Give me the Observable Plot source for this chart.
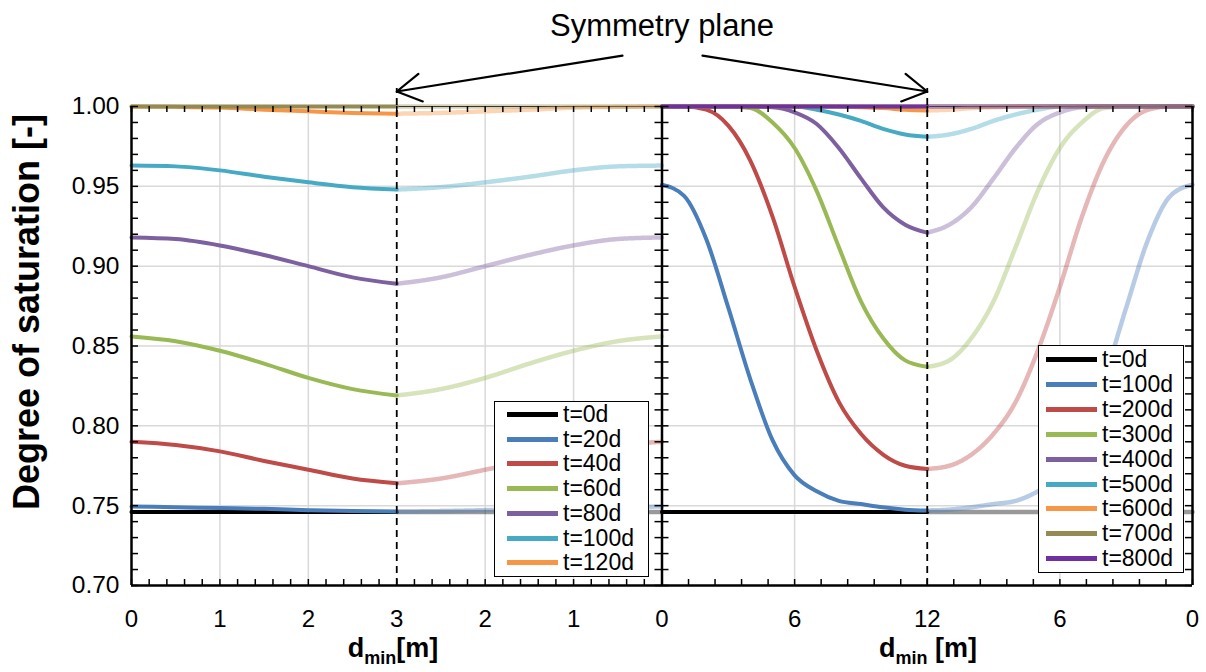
<!DOCTYPE html>
<html>
<head>
<meta charset="utf-8">
<script src="https://cdn.jsdelivr.net/npm/d3@7"></script>
<script src="https://cdn.jsdelivr.net/npm/@observablehq/plot@0.6"></script>
<style>
  body { margin: 0; background: #fff; font-family: Arial, "Liberation Sans", sans-serif; }
  #wrap { position: relative; width: 1206px; height: 672px; overflow: hidden; }
  #wrap svg { position: absolute; left: 0; top: 0; }
  .legend { position: absolute; border: 1.5px solid #000; background: #fff; box-sizing: border-box; }
  .row { position: absolute; left: 0; right: 0; height: 24px; }
  .row .sw { position: absolute; top: 10px; height: 5px; }
  .row .lb { position: absolute; top: -2px; font-size: 23px; line-height: 28px; color: #000; white-space: nowrap; }
  .xtitle { position: absolute; top: 632px; font-weight: bold; font-size: 27px; line-height: 32px; transform: translateX(-50%); white-space: nowrap; }
  .xtitle sub { font-size: 18px; vertical-align: -7px; }
  .ytitle { position: absolute; left: 27px; top: 312px; font-weight: bold; font-size: 36px; white-space: nowrap; transform: translate(-50%, -50%) rotate(-90deg); }
</style>
</head>
<body>
<div id="wrap"></div>
<script>
// ---------------- data ----------------
// left panel: distance from boundary (m), 0..3 (symmetry plane at 3)
const uLeft = [0, 0.5, 1, 1.5, 2, 2.5, 3];
const leftNames = ["t=0d", "t=20d", "t=40d", "t=60d", "t=80d", "t=100d", "t=120d"];
const left_t0   = [0.746, 0.746, 0.746, 0.746, 0.746, 0.746, 0.746];
const left_t20  = [0.7495, 0.749, 0.7485, 0.748, 0.7472, 0.7466, 0.7463];
const left_t40  = [0.790, 0.788, 0.784, 0.778, 0.7725, 0.767, 0.764];
const left_t60  = [0.856, 0.853, 0.847, 0.839, 0.830, 0.823, 0.819];
const left_t80  = [0.918, 0.917, 0.913, 0.907, 0.900, 0.893, 0.889];
const left_t100 = [0.963, 0.9625, 0.960, 0.956, 0.9525, 0.9495, 0.948];
const left_t120 = [1.000, 0.9998, 0.9993, 0.998, 0.997, 0.996, 0.9955];
const left_top  = [1.000, 1.000, 1.000, 1.000, 1.000, 1.000, 1.000]; // unlabelled line at 1.00

// right panel: distance (m), 0..12 (symmetry plane at 12)
const uRight = [0, 1, 2, 3, 4, 5, 6, 7, 8, 9, 10, 11, 12];
const rightNames = ["t=0d", "t=100d", "t=200d", "t=300d", "t=400d", "t=500d", "t=600d", "t=700d", "t=800d"];
const right_t0   = [0.746, 0.746, 0.746, 0.746, 0.746, 0.746, 0.746, 0.746, 0.746, 0.746, 0.746, 0.746, 0.746];
const right_t100 = [0.951, 0.944, 0.917, 0.874, 0.829, 0.791, 0.769, 0.759, 0.753, 0.751, 0.749, 0.7475, 0.747];
const right_t200 = [1.000, 1.000, 0.998, 0.988, 0.966, 0.931, 0.887, 0.847, 0.815, 0.795, 0.782, 0.775, 0.773];
const right_t300 = [1.000, 1.000, 1.000, 1.000, 0.999, 0.990, 0.974, 0.947, 0.912, 0.878, 0.855, 0.841, 0.837];
const right_t400 = [1.000, 1.000, 1.000, 1.000, 1.000, 0.9995, 0.9963, 0.989, 0.974, 0.955, 0.937, 0.926, 0.921];
const right_t500 = [1.000, 1.000, 1.000, 1.000, 1.000, 1.000, 1.000, 0.998, 0.995, 0.991, 0.986, 0.9825, 0.981];
const right_t600 = [1.000, 1.000, 1.000, 1.000, 1.000, 1.000, 1.000, 1.000, 1.000, 0.9995, 0.999, 0.998, 0.9975];
const right_t700 = [1.000, 1.000, 1.000, 1.000, 1.000, 1.000, 1.000, 1.000, 1.000, 1.000, 1.000, 1.000, 1.000];
const right_t800 = [1.000, 1.000, 1.000, 1.000, 1.000, 1.000, 1.000, 1.000, 1.000, 1.000, 1.000, 1.000, 1.000];

// tick labels
const leftTickValues = [0, 1, 2, 3];
const rightTickValues = [0, 6, 12];
const yTickValues = [0.70, 0.75, 0.80, 0.85, 0.90, 0.95, 1.00];
const annotationText = "Symmetry plane";
const yTitle = "Degree of saturation [-]";

// ---------------- styles ----------------
const leftColors  = ["#000000", "#4a7ebb", "#be4b48", "#98b954", "#7d60a0", "#46aac5", "#f79646"];
const rightColors = ["#000000", "#4a7ebb", "#be4b48", "#98b954", "#7d60a0", "#46aac5", "#f79646", "#948a54", "#7030a0"];
const oliveColor = "#948a54";

// ---------------- geometry of the combined x scale ----------------
const symL = 3, symR = 12;           // symmetry plane positions (m)
const k = symL / symR;               // right panel compression into [2*symL, 4*symL]
const xL = u => u, xLm = u => 2 * symL - u;
const xR = u => 2 * symL + u * k, xRm = u => 4 * symL - u * k;

function rows(us, vs, fx) { return us.map((u, i) => ({x: fx(u), y: vs[i]})); }

const leftSeries = [left_t0, left_t20, left_t40, left_t60, left_t80, left_t100, left_t120];
const rightSeries = [right_t0, right_t100, right_t200, right_t300, right_t400, right_t500, right_t600, right_t700, right_t800];

const solidW = 4, fadeW = 4.5;
const fadedMarks = [], solidMarks = [];
function addSeries(us, vs, f, fm, color) {
  fadedMarks.push(Plot.line(rows(us, vs, fm), {x: "x", y: "y", stroke: color, strokeWidth: fadeW, strokeOpacity: 0.4, strokeDasharray: "1 1", curve: "monotone-x"}));
  solidMarks.push(Plot.line(rows(us, vs, f), {x: "x", y: "y", stroke: color, strokeWidth: solidW, curve: "monotone-x"}));
}
leftSeries.forEach((vs, i) => addSeries(uLeft, vs, xL, xLm, leftColors[i]));
addSeries(uLeft, left_top, xL, xLm, oliveColor);
rightSeries.forEach((vs, i) => addSeries(uRight, vs, xR, xRm, rightColors[i]));

// ticks
const minorLeft = d3.range(0, 2 * symL + 1e-9, 0.2).map(v => +v.toFixed(4));
const minorRight = d3.range(0, 2 * symR + 1e-9, 1.2).map(u => +xR(u).toFixed(4));
const minorX = Array.from(new Set([...minorLeft, ...minorRight]));
const minorY = d3.range(0.70, 1.0001, 0.01).map(v => +v.toFixed(2));
const gridX = [1, 2, 4, 5, xR(6), xR(18)];
const gridY = [0.75, 0.80, 0.85, 0.90, 0.95];

const xLabels = [];
leftTickValues.forEach(u => { xLabels.push({x: xL(u), t: String(u)}); if (u !== symL) xLabels.push({x: xLm(u), t: String(u)}); });
rightTickValues.forEach(u => { if (u !== 0) xLabels.push({x: xR(u), t: String(u)}); if (u !== symR) xLabels.push({x: xRm(u), t: String(u)}); });

const chart = Plot.plot({
  width: 1206, height: 672,
  marginLeft: 131, marginRight: 14, marginTop: 106, marginBottom: 87,
  x: {domain: [0, 4 * symL], axis: null},
  y: {domain: [0.70, 1.00], axis: null},
  style: {fontFamily: "Arial, 'Liberation Sans', sans-serif", background: "transparent"},
  marks: [
    Plot.ruleX(gridX, {stroke: "#d9d9d9", strokeWidth: 1.5}),
    Plot.ruleY(gridY, {stroke: "#d9d9d9", strokeWidth: 1.5}),
    Plot.ruleY([1.0], {stroke: "#000", strokeWidth: 1.2}),
    ...fadedMarks,
    ...solidMarks,
    // symmetry planes
    Plot.ruleX([symL, xR(symR)], {y1: 0.70, y2: 1.0112, stroke: "#000", strokeWidth: 1.8, strokeDasharray: "7 5"}),
    // tick marks
    Plot.ruleX(minorX, {y1: 0.70, y2: 0.70, insetTop: -6, stroke: "#000", strokeWidth: 1.5}),
    Plot.ruleX(minorX, {y1: 1.0, y2: 1.0, insetBottom: -6, stroke: "#000", strokeWidth: 1.5}),
    Plot.ruleY(minorY, {x1: 0, x2: 0, insetRight: -7, stroke: "#000", strokeWidth: 1.5}),
    Plot.ruleY(minorY, {x1: 2 * symL, x2: 2 * symL, insetLeft: -7, insetRight: -7, stroke: "#000", strokeWidth: 1.5}),
    Plot.ruleY(minorY, {x1: 4 * symL, x2: 4 * symL, insetLeft: -7, stroke: "#000", strokeWidth: 1.5}),
    // frame
    Plot.ruleX([0, 2 * symL, 4 * symL], {y1: 0.70, y2: 1.0, stroke: "#000", strokeWidth: 2.5}),
    Plot.ruleY([0.70], {x1: 0, x2: 4 * symL, stroke: "#000", strokeWidth: 2.5}),
    // tick labels
    Plot.text(yTickValues, {x: 0, y: d => d, text: d => d3.format(".2f")(d), textAnchor: "end", dx: -12, fontSize: 24.5, fill: "#000"}),
    Plot.text(xLabels, {x: "x", y: 0.70, text: "t", dy: 34, fontSize: 24, fill: "#000"}),
    // annotation
    Plot.text([annotationText], {x: 2 * symL, y: 1.0, text: d => d, dy: -80, fontSize: 31, fill: "#000"}),
    Plot.arrow([{x1: 5.553, x2: symL}, {x1: 6.458, x2: xR(symR)}], {x1: "x1", x2: "x2", y1: 1.0319, y2: 1.0094, stroke: "#000", strokeWidth: 2.2, headLength: 19, bend: 0})
  ]
});
const wrap = document.getElementById("wrap");
wrap.appendChild(chart);

// legends
function legend(names, colors, box, rowTop, rowStep, swLeft, txtLeft) {
  const d = document.createElement("div");
  d.className = "legend";
  Object.assign(d.style, {left: box[0] + "px", top: box[1] + "px", width: box[2] + "px", height: box[3] + "px"});
  names.forEach((n, i) => {
    const r = document.createElement("div");
    r.className = "row";
    r.style.top = (rowTop + i * rowStep - 12) + "px";
    r.innerHTML = `<span class="sw" style="left:${swLeft}px;width:51px;background:${colors[i]}"></span><span class="lb" style="left:${txtLeft}px">${n}</span>`;
    d.appendChild(r);
  });
  wrap.appendChild(d);
}
legend(leftNames, leftColors, [494, 401, 155, 176], 12, 24.7, 12, 68);
legend(rightNames, rightColors, [1038, 345, 146, 228], 13, 24.9, 7, 63);

// axis titles
function xTitle(html, cx) {
  const d = document.createElement("div");
  d.className = "xtitle"; d.innerHTML = html; d.style.left = cx + "px";
  wrap.appendChild(d);
}
xTitle("d<sub>min</sub>[m]", 393);
xTitle("d<sub>min</sub> [m]", 928);
const yt = document.createElement("div");
yt.className = "ytitle"; yt.textContent = yTitle;
wrap.appendChild(yt);
</script>
</body>
</html>
